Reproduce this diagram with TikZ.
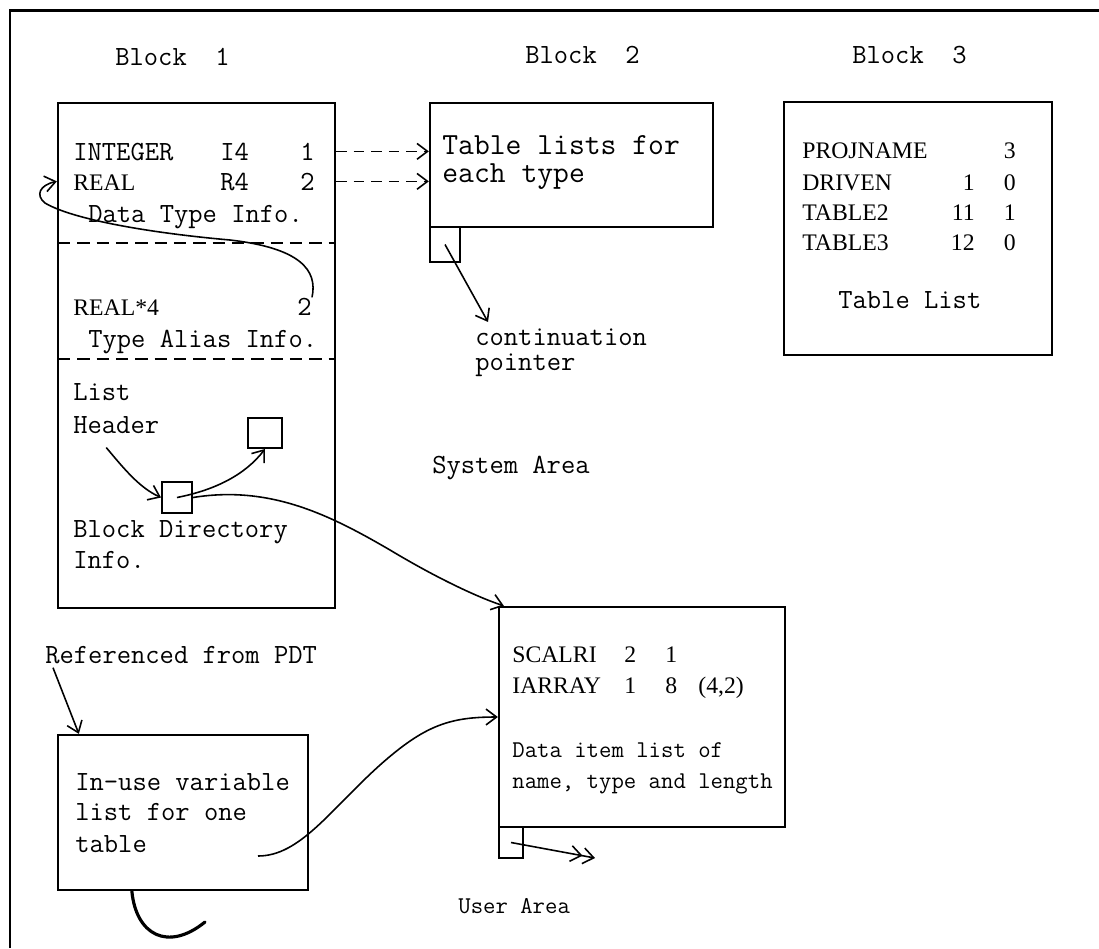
\documentclass[tikz,border=0pt]{standalone}
\usepackage{fontspec}
\usepackage{tikz}
\usetikzlibrary{arrows,arrows.meta,positioning,calc,fit}
\newfontfamily\rowfont{Liberation Serif}

\tikzset{
  blk/.style={draw, line width=1.3pt, inner sep=0pt},
  ptr/.style={draw, line width=1.1pt, inner sep=0pt},
  txt/.style={font=\ttfamily\fontsize{15.8}{18}\selectfont, anchor=base west, inner sep=0pt},
  bigtxt/.style={txt, font=\ttfamily\fontsize{17.5}{20}\selectfont},
  smalltxt/.style={txt, font=\ttfamily\fontsize{13.7}{16}\selectfont},
  rowtxt/.style={txt, font=\rowfont\fontsize{13.5}{15}\selectfont},
  link/.style={-{Straight Barb[length=6pt,width=9pt]}, line width=0.9pt},
  dlink/.style={-{Straight Barb[length=6pt,width=9pt]Straight Barb[length=6pt,width=9pt]}, line width=0.9pt},
  sep/.style={line width=1.1pt, dash pattern=on 7pt off 4pt}
}

\begin{document}
\begin{tikzpicture}[x=0.02cm, y=-0.02cm]
\useasboundingbox (0,0) rectangle (1099,948);
\draw[line width=1.7pt] (10,948) -- (10,10) -- (1099,10);

\node[txt] (h1) at (115,65) {Block~~1};
\node[txt] (h2) at (525,63) {Block~~2};
\node[txt] (h3) at (852,63) {Block~~3};

% block 1
\node[blk, fit={(58,103) (335,608)}] (b1) {};
\draw[sep] (58,243) -- (335,243);
\draw[sep] (58,359) -- (335,359);
\node[txt] (int) at (73,160) {INTEGER};
\node[txt] (i4) at (220,160) {I4};
\node[txt] (i4n) at (300,160) {1};
\node[rowtxt] (rl) at (73,190) {REAL};
\node[txt] (r4) at (220,190) {R4};
\node[txt] (r4n) at (300,190) {2};
\node[txt] (dti) at (88,222) {Data Type Info.};
\node[rowtxt] (al) at (73,315) {REAL*4};
\node[txt] (al2) at (297,315) {2};
\node[txt] (tai) at (88,347) {Type Alias Info.};
\node[txt] (lst) at (73,400) {List};
\node[txt] (hdr) at (73,433) {Header};
\node[ptr, fit={(248,418) (282,448)}] (nxt) {};
\node[ptr, fit={(162,482) (192,513)}] (dir) {};
\node[txt] (bdi) at (73,537) {Block Directory};
\node[txt] (bdi2) at (73,568) {Info.};

% block 2
\node[blk, fit={(430,103) (713,227)}] (b2) {};
\node[ptr, fit={(430,227) (460,262)}] (c2) {};
\node[bigtxt] (tl) at (442,154) {Table lists for};
\node[bigtxt] (tl2) at (442,182) {each type};
\node[txt] (cont) at (475,345) {continuation};
\node[txt] (cont2) at (475,370) {pointer};

% block 3
\node[blk, fit={(784,102) (1052,355)}] (b3) {};
\foreach \nm/\a/\b/\y [count=\i] in {PROJNAME//3/158, DRIVEN/1/0/190, TABLE2/11/1/220, TABLE3/12/0/250} {
  \node[rowtxt] (t\i) at (802,\y) {\nm};
  \node[rowtxt, anchor=base east] (ta\i) at (975,\y) {\a};
  \node[rowtxt, anchor=base east] (tb\i) at (1016,\y) {\b};
}
\node[txt] (tlist) at (838,308) {Table List};

\node[txt] (sys) at (432,473) {System Area};

% user area
\node[blk, fit={(499,607) (785,827)}] (b4) {};
\node[ptr, fit={(499,827) (523,858)}] (c4) {};
\node[rowtxt] (s1) at (512,662) {SCALRI};
\node[rowtxt] (s1a) at (624,662) {2};
\node[rowtxt] (s1b) at (665,662) {1};
\node[rowtxt] (s2) at (512,693) {IARRAY};
\node[rowtxt] (s2a) at (624,693) {1};
\node[rowtxt] (s2b) at (665,693) {8};
\node[rowtxt] (s2c) at (698,693) {(4,2)};
\node[smalltxt] (dil) at (512,757) {Data item list of};
\node[smalltxt] (dil2) at (512,788) {name, type and length};

\node[txt] (ref) at (45,663) {Referenced from PDT};
\node[blk, fit={(58,735) (308,890)}] (b5) {};
\node[txt] (iu) at (75,790) {In-use variable};
\node[txt] (iu2) at (75,820) {list for one};
\node[txt] (iu3) at (75,852) {table};
\node[smalltxt] (usr) at (458,913) {User Area};

\coordinate (vs) at (258,856);
\coordinate (ce) at (595,858);

% pointers
\draw[link, dash pattern=on 6pt off 4pt] (b1.east |- i4n) -- (b2.west |- i4n);
\draw[link, dash pattern=on 6pt off 4pt] (b1.east |- r4n) -- (b2.west |- r4n);
\draw[link] (al2.north east) .. controls (318,270) and (300,248) .. (230,240)
  .. controls (140,232) and (70,218) .. (45,203)
  .. controls (35,195) and (40,185) .. (b1.west |- r4n);
\draw[link] (c2.center) -- ($(cont.north west)+(13,-6)$);
\draw[link] ($(hdr.south)+(-10,14)$) .. controls (125,470) and (140,488) .. (dir.west);
\draw[link] (dir.center) .. controls (215,490) and (245,475) .. (nxt.south);
\draw[link] (dir.east) .. controls (270,485) and (330,515) .. (390,550)
  .. controls (440,580) and (480,598) .. ($(b4.north west)+(6,0)$);
\draw[link] ($(ref.south west)+(8,4)$) -- ($(b5.north west)+(22,0)$);
\draw[link] (vs) .. controls (300,856) and (330,810) .. (380,765)
  .. controls (425,725) and (450,717) .. (b4.west);
\draw[dlink] (c4.center) -- (ce);
\draw[line width=1.8pt, line cap=round] ($(b5.south west)+(75,0)$) .. controls (136,935) and (168,952) .. (205,922);
\end{tikzpicture}
\end{document}
